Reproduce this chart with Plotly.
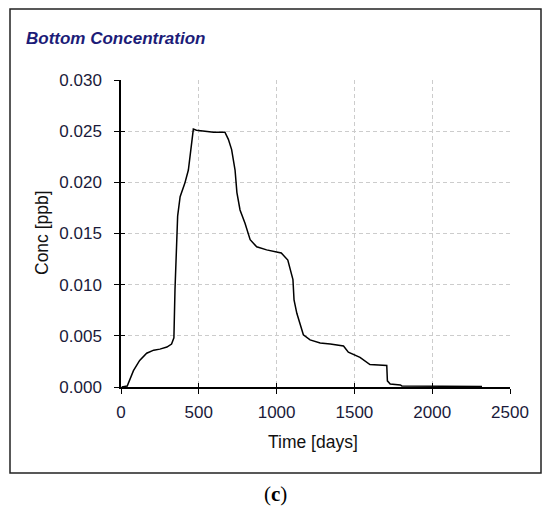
import plotly.graph_objects as go

time_days = [5, 40, 80, 120, 165, 210, 250, 295, 325, 340, 347, 355, 364, 380, 410, 433, 455,
             465, 485, 595, 668, 690, 711, 733, 745, 765, 797, 830, 872, 936, 1000, 1030, 1072,
             1105, 1112, 1130, 1150, 1172, 1215, 1280, 1345, 1430, 1461, 1536, 1600, 1708, 1712,
             1730, 1795, 1805, 2320]
conc_ppb = [0.0, 0.0001, 0.0016, 0.0026, 0.0033, 0.0036, 0.0037, 0.0039, 0.0042, 0.0048, 0.0095,
            0.0140, 0.0167, 0.0186, 0.0199, 0.0212, 0.0239, 0.0252, 0.0251, 0.0249, 0.0249, 0.0242,
            0.0232, 0.0212, 0.0190, 0.0173, 0.0160, 0.0144, 0.0137, 0.0134, 0.0132, 0.0131, 0.0124,
            0.0105, 0.0085, 0.0072, 0.0062, 0.0051, 0.0046, 0.0043, 0.0042, 0.0040, 0.0034, 0.0029,
            0.0022, 0.0021, 0.0006, 0.0003, 0.0002, 0.0001, 0.00005]
x_ticks = [0, 500, 1000, 1500, 2000, 2500]
y_ticks = [0.000, 0.005, 0.010, 0.015, 0.020, 0.025, 0.030]
y_tick_labels = ["0.000", "0.005", "0.010", "0.015", "0.020", "0.025", "0.030"]

# page body has an 8px margin; figure coordinates below are page coords minus 8
OFF = 8
W, H = 550, 515
L, R, T, B = 121 - OFF, 550 - (510 - OFF), 80 - OFF, 515 - (387 - OFF)
pw, ph = W - L - R, H - T - B

def px(x):
    return (x - OFF - L) / pw

def py(y):
    return (H - B - (y - OFF)) / ph

font_main = "Liberation Sans, Arial, sans-serif"
tick_color = "#1a1a3a"

fig = go.Figure()
fig.add_trace(go.Scatter(x=time_days, y=conc_ppb, mode="lines",
                         line=dict(color="black", width=1.5), showlegend=False,
                         hoverinfo="skip"))
fig.add_trace(go.Scatter(x=[None], y=[None], xaxis="x2", yaxis="y2", showlegend=False))

grid = dict(showgrid=True, gridcolor="#cccccc", griddash="4px,3px", gridwidth=1)

fig.update_layout(
    width=W, height=H,
    margin=dict(l=L, r=R, t=T, b=B, pad=0),
    paper_bgcolor="white", plot_bgcolor="white",
    xaxis=dict(range=[0, 2500], tickvals=x_ticks, showline=True, linecolor="black", linewidth=1.5,
               ticks="outside", ticklen=5, tickwidth=1.2, tickcolor="black",
               zeroline=False, tickfont=dict(family=font_main, size=17, color=tick_color),
               ticklabelstandoff=4, **grid),
    yaxis=dict(range=[0, 0.030], tickvals=y_ticks, ticktext=y_tick_labels, showline=True,
               linecolor="black", linewidth=1.5,
               ticks="outside", ticklen=5, tickwidth=1.2, tickcolor="black",
               zeroline=False, tickfont=dict(family=font_main, size=17, color=tick_color),
               ticklabelstandoff=9, **grid),
    xaxis2=dict(range=[0, 2500], tickvals=x_ticks, overlaying="x", side="bottom",
                showticklabels=False, ticks="inside", ticklen=4, tickwidth=1.2, tickcolor="black",
                showgrid=False, showline=False, zeroline=False),
    yaxis2=dict(range=[0, 0.030], tickvals=y_ticks, overlaying="y", side="left",
                showticklabels=False, ticks="inside", ticklen=4, tickwidth=1.2, tickcolor="black",
                showgrid=False, showline=False, zeroline=False),
    shapes=[
        dict(type="rect", xref="paper", yref="paper", x0=px(10), x1=px(541), y0=py(473), y1=py(9),
             line=dict(color="#222", width=1.5), fillcolor="rgba(0,0,0,0)", layer="below"),
    ],
    annotations=[
        dict(text="<b><i>Bottom Concentration</i></b>", xref="paper", yref="paper",
             x=px(24), y=py(39), xanchor="left", yanchor="middle", showarrow=False,
             font=dict(family=font_main, size=17, color="#1c1c78")),
        dict(text="Time [days]", xref="paper", yref="paper", x=px(313), y=py(442),
             xanchor="center", yanchor="middle", showarrow=False,
             font=dict(family=font_main, size=17.5, color="#111")),
        dict(text="Conc [ppb]", xref="paper", yref="paper", x=px(42), y=py(233),
             xanchor="center", yanchor="middle", showarrow=False, textangle=-90,
             font=dict(family=font_main, size=17.5, color="#111")),
        dict(text="(<b>c</b>)", xref="paper", yref="paper", x=px(275), y=py(494),
             xanchor="center", yanchor="middle", showarrow=False,
             font=dict(family="Liberation Serif, Times New Roman, serif", size=21, color="black")),
    ],
)

fig.write_html("out.html")
